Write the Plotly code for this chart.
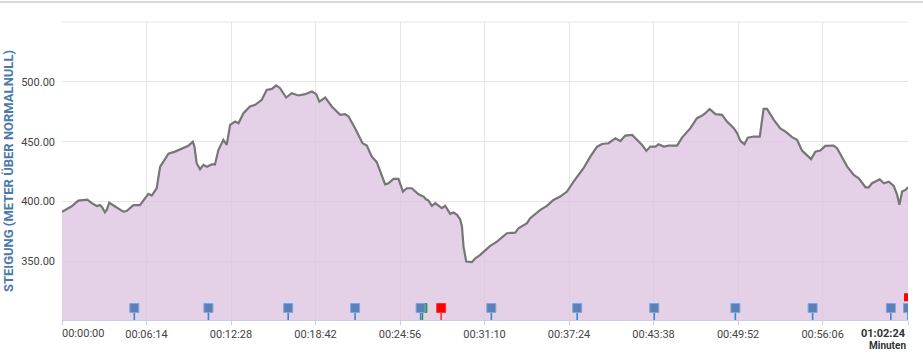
import plotly.graph_objects as go

# ---- data -------------------------------------------------------------
TIME_S = [0, 21, 43, 72, 94, 112, 132, 154, 168, 178, 190, 198, 209, 235, 271, 286, 316, 345,
          368, 382, 397, 419, 434, 449, 471, 500, 537, 559, 579, 586, 596, 611, 626, 641, 663,
          677, 692, 714, 729, 741, 744, 766, 781, 803, 832, 855, 884, 906, 929, 948, 965, 992,
          1017, 1046, 1076, 1106, 1125, 1139, 1165, 1194, 1231, 1253, 1268, 1297, 1312, 1330,
          1349, 1371, 1393, 1416, 1430, 1445, 1467, 1489, 1509, 1526, 1548, 1578, 1600, 1611,
          1622, 1637, 1652, 1681, 1696, 1718, 1733, 1748, 1762, 1770, 1777, 1789, 1814, 1829,
          1851, 1895, 1925, 1969, 2006, 2020, 2058, 2072, 2117, 2146, 2175, 2205, 2235, 2264,
          2308, 2338, 2368, 2390, 2419, 2449, 2471, 2493, 2523, 2552, 2567, 2586, 2604, 2627,
          2640, 2663, 2685, 2722, 2744, 2781, 2810, 2833, 2847, 2866, 2892, 2921, 2943, 2973,
          2988, 3002, 3020, 3035, 3061, 3088, 3105, 3120, 3150, 3179, 3202, 3231, 3253, 3275,
          3297, 3315, 3334, 3356, 3378, 3415, 3430, 3475, 3504, 3526, 3556, 3570, 3585, 3619,
          3637, 3659, 3681, 3696, 3706, 3718, 3733, 3744]
ELEVATION_M = [391.5, 393.5, 396.0, 400.8, 401.0, 401.6, 398.6, 396.2, 397.0, 395.0, 391.0, 393.0,
               399.0, 396.0, 391.5, 392.0, 397.0, 397.0, 402.7, 406.4, 405.0, 411.0, 429.0, 433.5,
               440.0, 441.7, 444.6, 446.5, 450.0, 446.0, 432.0, 427.0, 430.6, 429.0, 431.0, 431.0,
               443.0, 451.5, 447.3, 460.0, 464.0, 466.8, 465.4, 473.8, 479.4, 480.8, 485.0, 493.3,
               494.1, 497.0, 494.7, 486.9, 490.5, 488.6, 489.7, 491.9, 489.7, 483.5, 486.9, 479.4,
               472.4, 473.0, 471.0, 461.3, 455.7, 448.7, 446.7, 437.5, 432.9, 420.8, 414.4, 415.3,
               418.9, 418.9, 408.3, 411.1, 411.1, 406.1, 404.1, 401.9, 400.8, 396.4, 398.6, 394.4,
               396.4, 389.7, 390.8, 388.8, 385.2, 379.1, 362.3, 349.8, 349.3, 352.6, 355.4, 362.9,
               366.5, 373.5, 374.0, 377.7, 381.9, 386.0, 393.0, 396.4, 401.3, 404.1, 408.3, 416.6,
               427.8, 437.5, 445.8, 448.1, 448.7, 452.9, 450.5, 455.1, 455.7, 450.1, 447.3, 442.3,
               445.9, 445.9, 447.9, 445.9, 446.7, 446.7, 453.4, 461.3, 469.6, 471.8, 473.8, 477.4,
               473.0, 472.4, 466.8, 461.3, 457.1, 450.7, 447.9, 453.4, 454.3, 454.3, 477.4, 477.4,
               468.2, 461.0, 458.4, 453.8, 451.5, 442.6, 439.0, 435.4, 441.7, 442.6, 446.5, 446.8,
               444.6, 429.2, 422.2, 419.4, 411.9, 411.9, 415.3, 418.6, 415.3, 416.6, 413.0, 405.5,
               397.2, 408.3, 409.7, 411.9]

EVENT_TIMES_BLUE = [320, 648, 1001, 1297, 1587, 1900, 2280, 2621, 2980, 3322, 3668, 3744]
EVENT_TIMES_GREEN = [1595]
EVENT_TIMES_RED = [1678]
EVENT_TIMES_RED_HIGH = [3744]

TICK_VALUES = [0, 374, 748, 1122, 1496, 1870, 2244, 2618, 2992, 3366, 3744]
TICK_LABELS = ["00:00:00", "00:06:14", "00:12:28", "00:18:42", "00:24:56", "00:31:10",
               "00:37:24", "00:43:38", "00:49:52", "00:56:06", "01:02:24"]
Y_TICKS = [350, 400, 450, 500]
Y_TITLE = "STEIGUNG (METER ÜBER NORMALNULL)"
X_UNIT = "Minuten"

# ---- styling constants -----------------------------------------------
Y_MIN, Y_MAX = 301, 550
LANE = 311          # elevation level of the event lane
LANE_HIGH = 320
FONT = "Roboto"
ML, MR, MT, MB = 62, 15, 22, 37
PLOT_W = 923 - ML - MR
PLOT_H = 357 - MT - MB

fig = go.Figure()

fig.add_trace(go.Scatter(
    x=TIME_S, y=ELEVATION_M, mode="lines", fill="tozeroy",
    fillcolor="rgba(220,196,224,0.78)",
    line=dict(color="#767676", width=2.2), hoverinfo="skip", showlegend=False))


def events(times, level, fill, edge, stem):
    n = len(times)
    fig.add_trace(go.Scatter(
        x=times, y=[level] * n, mode="markers",
        marker=dict(symbol="square", size=9, color=fill, line=dict(color=edge, width=1)),
        error_y=dict(type="data", symmetric=False, array=[0] * n,
                     arrayminus=[level - Y_MIN] * n, width=0, thickness=1.6, color=stem),
        showlegend=False, hoverinfo="skip"))


events(EVENT_TIMES_GREEN, LANE, "#1e9a3a", "#1e9a3a", "#1e9a3a")
events(EVENT_TIMES_BLUE, LANE, "#5a82b8", "#7fa6dc", "#3a86d6")
events(EVENT_TIMES_RED, LANE, "#ff0000", "#ff3030", "#ff3030")
fig.add_trace(go.Scatter(
    x=EVENT_TIMES_RED_HIGH, y=[LANE_HIGH] * len(EVENT_TIMES_RED_HIGH), mode="markers",
    marker=dict(symbol="square", size=8, color="#ff0000"), showlegend=False, hoverinfo="skip"))

mid_labels = [""] + TICK_LABELS[1:-1] + [""]

fig.update_layout(
    width=923, height=357,
    margin=dict(l=ML, r=MR, t=MT, b=MB, autoexpand=False),
    paper_bgcolor="white", plot_bgcolor="white",
    font=dict(family=FONT, size=11, color="#444444"),
    xaxis=dict(range=[0, TICK_VALUES[-1]], tickvals=TICK_VALUES, ticktext=mid_labels,
               showgrid=True, gridcolor="#e6e6e6", gridwidth=1, zeroline=False,
               showline=True, linecolor="#c4d3e3", linewidth=1, automargin=False,
               ticks="outside", ticklen=4, tickcolor="#c4d3e3",
               tickfont=dict(family=FONT, size=11, color="#444444")),
    yaxis=dict(range=[Y_MIN, Y_MAX], tickvals=Y_TICKS, tickformat=".2f",
               showgrid=True, gridcolor="#e6e6e6", gridwidth=1, zeroline=False,
               showline=False, ticks="", ticklabelstandoff=6, automargin=False,
               tickfont=dict(family=FONT, size=11, color="#444444")),
    shapes=[
        dict(type="line", xref="paper", yref="paper", x0=0, x1=1, y0=1, y1=1,
             line=dict(color="#e6e6e6", width=1)),
        dict(type="line", xref="paper", yref="paper", x0=-ML / PLOT_W, x1=1 + MR / PLOT_W,
             y0=1 + 20 / PLOT_H, y1=1 + 20 / PLOT_H,
             line=dict(color="#cccccc", width=1.5)),
    ],
    annotations=[
        dict(text=f"<b>{Y_TITLE}</b>", textangle=-90, x=-54 / PLOT_W, xref="paper",
             y=0.5, yref="paper", xanchor="center", yanchor="middle", showarrow=False,
             font=dict(family=FONT, size=13, color="#4a7aa8")),
        dict(text=TICK_LABELS[0], x=TICK_VALUES[0], xref="x", y=0, yref="paper",
             xanchor="left", yanchor="top", yshift=-5, xshift=-2, showarrow=False,
             font=dict(family=FONT, size=11, color="#444444")),
        dict(text=f"<b>{TICK_LABELS[-1]}</b>", x=TICK_VALUES[-1], xref="x", y=0, yref="paper",
             xanchor="right", yanchor="top", yshift=-5, showarrow=False,
             font=dict(family=FONT, size=11, color="#333333")),
        dict(text=f"<b>{X_UNIT}</b>", x=TICK_VALUES[-1], xref="x", y=0, yref="paper",
             xanchor="right", yanchor="top", yshift=-18, showarrow=False,
             font=dict(family=FONT, size=10, color="#333333")),
    ],
)

fig.write_html("out.html", config={"displayModeBar": False},
               post_script="document.body.style.margin='0';")
